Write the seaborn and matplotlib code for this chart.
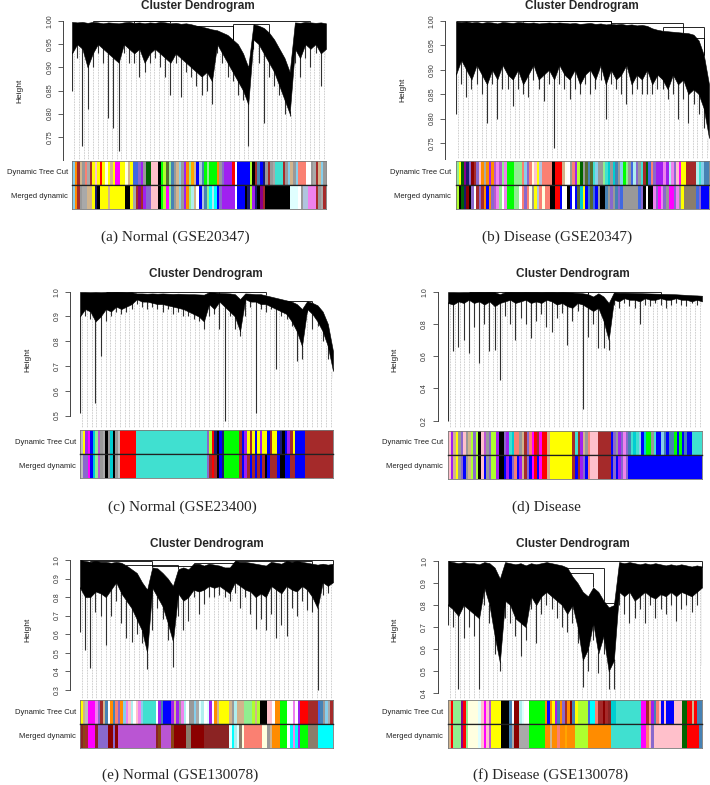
import numpy as np
import matplotlib
matplotlib.use("Agg")
import matplotlib.pyplot as plt
from matplotlib.colors import ListedColormap
import seaborn as sns

sns.set_style("white")
plt.rcParams['font.family'] = ['Liberation Sans', 'DejaVu Sans']

# ---------------- colour codes (WGCNA module colours) ----------------
CODE_COLORS = {
    't': '#40E0D0', 'b': '#0000FF', 'n': '#A52A2A', 'y': '#FFFF00', 'g': '#00FF00',
    'r': '#FF0000', 'k': '#000000', 'p': '#FFC0CB', 'm': '#FF00FF', 'u': '#A020F0',
    'G': '#ADFF2F', 'a': '#D2B48C', 's': '#FA8072', 'c': '#00FFFF', 'M': '#191970',
    'l': '#E0FFFF', 'e': '#999999', 'L': '#90EE90', 'Y': '#FFFFE0', 'R': '#4169E1',
    'd': '#8B0000', 'D': '#006400', 'T': '#00CED1', 'x': '#A9A9A9', 'o': '#FFA500',
    'O': '#FF8C00', 'w': '#FFFFFF', 'S': '#87CEEB', 'A': '#8B4513', 'E': '#4682B4',
    'P': '#AFEEEE', 'V': '#EE82EE', 'B': '#556B2F', 'Q': '#8B008B', 'q': '#BEBEBE',
    'h': '#8968CD', 'i': '#BA55D3', 'f': '#8B2323', 'K': '#8B7D6B', 'z': '#B0C4DE',
    'I': '#FFFFF0',
}

# ---------------- panel (a) Normal GSE20347 ----------------
A_TOP = [0.998, 0.997, 0.998, 0.996, 0.998, 0.997, 0.995, 0.997, 0.996, 0.995,
         0.997, 0.998, 0.996, 0.997, 0.995, 0.997, 0.996, 0.998, 0.997, 0.995,
         0.996, 0.994, 0.995, 0.993, 0.990, 0.988, 0.985, 0.982,
         0.980, 0.975, 0.970, 0.960, 0.950, 0.930, 0.900,
         0.993, 0.990, 0.985, 0.975, 0.960, 0.940, 0.920, 0.890,
         0.997, 0.996, 0.998, 0.997, 0.996, 0.997, 0.995]
A_MASS = [0.93, 0.95, 0.94, 0.90, 0.93, 0.95, 0.94, 0.93, 0.92, 0.91,
          0.95, 0.94, 0.93, 0.94, 0.91, 0.93, 0.94, 0.93, 0.92, 0.91,
          0.93, 0.92, 0.91, 0.90, 0.89, 0.88, 0.89, 0.87,
          0.95, 0.93, 0.91, 0.89, 0.87, 0.85, 0.82,
          0.96, 0.95, 0.93, 0.91, 0.89, 0.86, 0.83, 0.80,
          0.94, 0.92, 0.95, 0.94, 0.95, 0.93, 0.94]
A_LEAF = [0.85, 0.92, 0.73, 0.81, 0.90, 0.93, 0.91, 0.79, 0.77, 0.72,
          0.93, 0.91, 0.91, 0.88, 0.89, 0.91, 0.92, 0.90, 0.88, 0.84,
          0.91, 0.835, 0.89, 0.88, 0.86, 0.84, 0.85, 0.82,
          0.93, 0.91, 0.88, 0.87, 0.84, 0.83, 0.73,
          0.94, 0.91, 0.78, 0.88, 0.86, 0.84, 0.80, 0.795,
          0.91, 0.88, 0.92, 0.90, 0.93, 0.86, 0.92]
A_JOINS = [(4, 19, 0.9995), (12, 46, 0.999), (31, 38, 0.994), (24, 31, 0.99)]
A_DYN = ("SOn" "aesx" "nypyr" "yYyay" "mmyyY" "ayR" "Rhue" "DD" "ppp" "kgGBL"
         "EeaSe" "uOLoa" "bzEgL" "ggg" "Oehu" "uurw" "bbbbb" "Gkn" "EbMe" "nex"
         "ttt" "neSaeS" "sssw" "w" "exnaSe")
A_MRG = ("SOnexxa" "ayMky" "yyayy" "yyyyk" "kyx" "nQnu" "hh" "ppp" "kgGmL" "EeaSe"
         "uOLPa" "wbzEL" "cPc" "bhuu" "uuuw" "bbbkM" "GuM" "kQnk" "kkkkkkkkk" "lll"
         "wez" "zVV" "Vnexn")
A_TICKS = [0.75, 0.80, 0.85, 0.90, 0.95, 1.00]
A_CAPTION = "(a) Normal (GSE20347)"

# ---------------- panel (b) Disease GSE20347 ----------------
B_TOP = [0.999, 0.998, 0.999, 0.997, 0.998, 0.996, 0.998, 0.997, 0.995, 0.998,
         0.997, 0.996, 0.998, 0.997, 0.996, 0.997, 0.995, 0.996, 0.997, 0.996,
         0.997, 0.996, 0.995, 0.996, 0.994, 0.995, 0.996, 0.994, 0.995, 0.993,
         0.994, 0.993, 0.994, 0.992, 0.993, 0.991, 0.992, 0.990, 0.985, 0.982,
         0.980, 0.979, 0.978, 0.977, 0.976, 0.975, 0.972, 0.960, 0.930, 0.870]
B_MASS = [0.89, 0.92, 0.90, 0.88, 0.91, 0.89, 0.87, 0.90, 0.88, 0.91,
          0.89, 0.88, 0.90, 0.87, 0.89, 0.91, 0.88, 0.89, 0.90, 0.88,
          0.91, 0.89, 0.88, 0.90, 0.87, 0.89, 0.90, 0.88, 0.91, 0.87,
          0.90, 0.88, 0.89, 0.91, 0.87, 0.89, 0.88, 0.90, 0.87, 0.89,
          0.88, 0.86, 0.89, 0.87, 0.88, 0.85, 0.86, 0.85, 0.82, 0.76]
B_LEAF = [0.81, 0.87, 0.845, 0.86, 0.87, 0.85, 0.79, 0.87, 0.80, 0.86,
          0.86, 0.825, 0.86, 0.85, 0.845, 0.88, 0.86, 0.835, 0.87, 0.74,
          0.87, 0.86, 0.84, 0.86, 0.85, 0.87, 0.85, 0.86, 0.88, 0.80,
          0.87, 0.86, 0.85, 0.83, 0.85, 0.86, 0.85, 0.85, 0.85, 0.86,
          0.86, 0.84, 0.85, 0.80, 0.84, 0.79, 0.83, 0.81, 0.78, 0.735]
B_JOINS = [(0, 30, 0.9995), (13, 30, 0.999), (30, 44, 0.995), (40, 48, 0.988), (44, 48, 0.965)]
B_DYN = ("LyD" "QMhd" "nhpOx" "OuO" "iViLV" "ggg" "LLL" "sShs" "Ypyzs" "sss"
         "k" "rrr" "a" "Iwes" "uGDeB" "EBtSe" "eLtTe" "TEeSgL" "eRPhe" "tnDRsh"
         "uuuVu" "PVhpm" "yy" "nnnn" "PtSEE")
B_MRG = ("GkD" "Mdkh" "wnhnO" "bOh" "iVLwV" "ggg" "LLw" "shsY" "eyzsY" "ssk"
         "k" "rrb" "w" "Ikbw" "bBTyb" "EBRbe" "kkEeh" "eEhRee" "eeeeR" "hkwkkV"
         "hmVhe" "mmhVe" "yK" "KKKK" "Rhbbb")
B_TICKS = [0.75, 0.80, 0.85, 0.90, 0.95, 1.00]
B_CAPTION = "(b) Disease (GSE20347)"

# ---------------- panel (c) Normal GSE23400 ----------------
C_TOP = [0.999, 0.999, 0.998, 0.999, 0.998, 0.999, 0.998, 0.999, 0.998, 0.997, 0.998,
         0.993, 0.993, 0.992, 0.993, 0.992, 0.993, 0.992, 0.991, 0.992, 0.991, 0.990,
         0.990, 0.989, 0.988,
         0.998, 0.997, 0.995, 0.994, 0.993, 0.990, 0.970,
         0.993, 0.992, 0.990, 0.990, 0.985, 0.980, 0.975, 0.970, 0.965, 0.960, 0.950, 0.930,
         0.962, 0.955, 0.945, 0.920, 0.870, 0.760]
C_MASS = [0.90, 0.93, 0.92, 0.88, 0.90, 0.93, 0.92, 0.94, 0.93, 0.94, 0.95,
          0.97, 0.96, 0.96, 0.955, 0.95, 0.95, 0.945, 0.94, 0.935, 0.93, 0.92,
          0.91, 0.90, 0.88,
          0.95, 0.93, 0.96, 0.94, 0.92, 0.90, 0.84,
          0.97, 0.96, 0.96, 0.95, 0.95, 0.94, 0.93, 0.92, 0.91, 0.88, 0.84, 0.78,
          0.93, 0.91, 0.88, 0.84, 0.78, 0.68]
C_LEAF = [0.51, 0.90, 0.89, 0.55, 0.74, 0.88, 0.90, 0.92, 0.91, 0.92, 0.93,
          0.95, 0.94, 0.93, 0.94, 0.93, 0.92, 0.93, 0.91, 0.92, 0.90, 0.90,
          0.89, 0.88, 0.85,
          0.90, 0.91, 0.85, 0.48, 0.90, 0.85, 0.82,
          0.90, 0.94, 0.51, 0.93, 0.92, 0.93, 0.69, 0.90, 0.89, 0.86, 0.72, 0.73,
          0.92, 0.85, 0.86, 0.80, 0.73, 0.65]
C_JOINS = [(5, 27, 1.0), (27, 36, 0.999), (40, 45, 0.962)]
C_DYN = ("qy" "umbTLi" "exkeTkeq" "rrrrrr" "ttttttt" "ttttttt" "ttttttt" "ttttttt"
         "hGr" "MkbM" "gggggg" "nbuyn" "ybyuyybn" "yy" "bMkbun" "y" "bbbb" "nnnnn" "nnnnnn")
C_MRG = ("qh" "hmbTLi" "exkeTkeq" "rrrrrr" "ttttttt" "ttttttt" "ttttttt" "ttttttt"
         "hnr" "nkbM" "gggggg" "nbunb" "nbnbnkbn" "nn" "bkkbbn" "n" "bbbb" "nnnnn" "nnnnnn")
C_TICKS = [0.5, 0.6, 0.7, 0.8, 0.9, 1.0]
C_CAPTION = "(c) Normal (GSE23400)"

# ---------------- panel (d) Disease GSE23400 ----------------
D_TOP = [0.998, 0.998, 0.997, 0.998, 0.998, 0.997, 0.998, 0.997, 0.998, 0.997,
         0.985, 0.997, 0.998, 0.997, 0.997, 0.998, 0.997, 0.997, 0.996, 0.997,
         0.997, 0.996, 0.997, 0.996, 0.995,
         0.993, 0.990, 0.985, 0.970,
         0.990, 0.970, 0.930,
         0.995, 0.994, 0.994, 0.993, 0.992, 0.991, 0.990, 0.989, 0.988, 0.987,
         0.986, 0.985, 0.984, 0.982, 0.980, 0.978, 0.977, 0.975]
D_MASS = [0.93, 0.92, 0.94, 0.93, 0.95, 0.93, 0.94, 0.92, 0.94, 0.91,
          0.93, 0.94, 0.95, 0.93, 0.94, 0.95, 0.93, 0.94, 0.93, 0.95,
          0.94, 0.92, 0.93, 0.91, 0.90,
          0.93, 0.92, 0.90, 0.88,
          0.90, 0.82, 0.70,
          0.95, 0.94, 0.96, 0.95, 0.95, 0.94, 0.96, 0.95, 0.95, 0.96,
          0.95, 0.95, 0.96, 0.95, 0.95, 0.94, 0.95, 0.94]
D_LEAF = [0.20, 0.63, 0.66, 0.70, 0.62, 0.78, 0.555, 0.80, 0.63, 0.64,
          0.45, 0.85, 0.80, 0.70, 0.84, 0.80, 0.71, 0.82, 0.86, 0.78,
          0.75, 0.84, 0.87, 0.67, 0.82,
          0.88, 0.27, 0.72, 0.80,
          0.65, 0.65, 0.64,
          0.92, 0.90, 0.93, 0.91, 0.90, 0.80, 0.92, 0.91, 0.93, 0.92,
          0.90, 0.92, 0.93, 0.92, 0.91, 0.93, 0.92, 0.92]
D_JOINS = [(4, 27, 1.0), (27, 41, 0.999)]
D_DYN = ("puayehpea" "GhGk" "piehGG" "ukkh" "utTs" "seanhs" "mrnmr" "ray" "yyyyyyyy"
         "ntnuaesp" "pp" "nnnnn" "bheuhVhEt" "TtSbTgget" "bbSEbEEgb" "gbEbb" "tttt")
D_MRG = ("puayehbea" "GhGk" "pbehGG" "ukkb" "ubhs" "buanhb" "mrbmr" "ray" "yyyyyyyy"
         "nbnuhbsp" "pp" "nnnnn" "bhbuhVhbb" "bbbbbbbbb" "bbbbbbbbb" "bbbbb" "bbbb")
D_TICKS = [0.2, 0.4, 0.6, 0.8, 1.0]
D_CAPTION = "(d) Disease"

# ---------------- panel (e) Normal GSE130078 ----------------
E_TOP = [1.0, 0.995, 0.99, 0.995, 0.99, 0.99, 0.985, 0.99, 0.985, 0.97,
         0.95, 0.93, 0.88, 0.84, 0.96, 0.955, 0.93, 0.90, 0.86, 0.95,
         0.96, 0.95, 0.98, 0.98, 0.97, 0.98, 0.975, 0.97, 0.96, 0.96,
         0.995, 0.99, 0.99, 0.985, 0.98, 0.975, 0.97, 0.99, 0.985, 0.98,
         0.995, 0.99, 0.995, 0.99, 0.985, 0.98, 0.975, 0.98, 0.975, 0.98]
E_MASS = [0.85, 0.80, 0.80, 0.83, 0.82, 0.80, 0.84, 0.88, 0.82, 0.78,
          0.74, 0.68, 0.62, 0.50, 0.85, 0.80, 0.75, 0.66, 0.56, 0.82,
          0.78, 0.80, 0.84, 0.83, 0.84, 0.86, 0.85, 0.86, 0.84, 0.82,
          0.88, 0.86, 0.84, 0.83, 0.80, 0.82, 0.80, 0.86, 0.84, 0.82,
          0.86, 0.84, 0.83, 0.86, 0.84, 0.80, 0.74, 0.88, 0.86, 0.88]
E_LEAF = [0.61, 0.515, 0.415, 0.72, 0.70, 0.54, 0.70, 0.78, 0.66, 0.58,
          0.56, 0.60, 0.55, 0.41, 0.62, 0.74, 0.68, 0.57, 0.42, 0.70,
          0.62, 0.67, 0.80, 0.71, 0.76, 0.80, 0.80, 0.81, 0.80, 0.78,
          0.82, 0.74, 0.80, 0.71, 0.63, 0.68, 0.62, 0.71, 0.58, 0.65,
          0.59, 0.74, 0.70, 0.78, 0.73, 0.72, 0.30, 0.81, 0.82, 0.86]
E_JOINS = [(0, 49, 0.998), (2, 14, 0.992), (9, 19, 0.975), (14, 22, 0.968),
           (22, 30, 0.985), (30, 45, 0.995)]
E_DYN = ("yaq" "mmm" "VhnaEw" "OEshO" "SVpPwpVS" "ttttt" "wuE" "bbb" "uaueV" "Pwe"
         "eS" "xlPwl" "uwOa" "yyyy" "aePa" "aaLL" "LGaGk" "kkp" "pwO" "Og"
         "ggw" "wVwu" "rrr" "nnnn" "REeSxn")
E_MRG = ("fAn" "mmm" "fhhhhd" "dhdii" "iiiiiiii" "iiiii" "fAi" "iii" "Adddd" "dKK"
         "dd" "dddff" "ffff" "ffff" "lcPl" "KYss" "sssss" "YYe" "aOO" "Og"
         "ggw" "cVcu" "ggg" "KKKK" "cccccc")
E_TICKS = [0.3, 0.4, 0.5, 0.6, 0.7, 0.8, 0.9, 1.0]
E_CAPTION = "(e) Normal (GSE130078)"

# ---------------- panel (f) Disease GSE130078 ----------------
F_TOP = [1.0, 0.995, 0.99, 0.995, 0.99, 0.99, 0.985, 0.995, 0.99, 0.97,
         0.92, 0.995, 0.99, 0.985, 0.99, 0.98, 0.99, 0.985, 0.99, 0.995,
         0.99, 0.985, 0.98, 0.97, 0.93, 0.90, 0.86, 0.84, 0.88, 0.86,
         0.82, 0.79, 0.80, 0.995, 0.99, 0.995, 0.99, 0.985, 0.99, 0.985,
         0.99, 0.985, 0.98, 0.985, 0.98, 0.985, 0.98, 0.975, 0.98, 0.975]
F_MASS = [0.80, 0.78, 0.75, 0.80, 0.78, 0.76, 0.74, 0.88, 0.80, 0.66,
          0.54, 0.82, 0.80, 0.74, 0.72, 0.70, 0.84, 0.80, 0.84, 0.86,
          0.84, 0.82, 0.80, 0.76, 0.80, 0.70, 0.55, 0.60, 0.72, 0.58,
          0.66, 0.50, 0.55, 0.86, 0.84, 0.86, 0.82, 0.84, 0.86, 0.84,
          0.83, 0.85, 0.84, 0.86, 0.84, 0.86, 0.85, 0.84, 0.86, 0.88]
F_LEAF = [0.71, 0.70, 0.42, 0.65, 0.70, 0.66, 0.42, 0.80, 0.72, 0.58,
          0.50, 0.74, 0.72, 0.66, 0.57, 0.64, 0.78, 0.63, 0.76, 0.80,
          0.78, 0.74, 0.70, 0.68, 0.72, 0.63, 0.43, 0.50, 0.64, 0.49,
          0.58, 0.42, 0.42, 0.80, 0.76, 0.72, 0.74, 0.78, 0.72, 0.80,
          0.74, 0.78, 0.76, 0.80, 0.73, 0.78, 0.80, 0.77, 0.80, 0.53]
F_JOINS = [(0, 49, 0.999), (16, 30, 0.968), (22, 28, 0.945), (27, 32, 0.81)]
F_DYN = ("ar" "LLL" "Q" "rL" "YYYY" "lp" "mpi" "yyyy" "kkk" "Ewd" "dPlwwg" "ggggg"
         "ObOyuEOhnOdEy" "GGGG" "Rc" "csn" "ndnfT" "Ttt" "tttttttt" "mm" "nsuEsp"
         "bp" "bbbp" "ppD" "Dr" "rarEE")
F_MRG = ("ar" "LLL" "Q" "rL" "YYYY" "lp" "mpi" "yyyy" "kkk" "Exd" "dxxxxg" "ggggg"
         "OOaOOsOOoOOOG" "GGGG" "OO" "OOO" "OOOOt" "ttt" "tttttttt" "mm" "sphppp"
         "pp" "pppp" "ppD" "Dr" "rrrrE")
F_TICKS = [0.4, 0.5, 0.6, 0.7, 0.8, 0.9, 1.0]
F_CAPTION = "(f) Disease (GSE130078)"

# ---------------- layout (pixels, origin top-left) ----------------
W, H = 710, 785
LAYOUT = [
    dict(box=(72, 21, 326, 160), spine=63, ymin=0.70, bars=(161, 184.7, 208.7), title=(198, 6),
         ylab=20, lab=68, cap=(175, 237), full=True),
    dict(box=(456, 21, 709, 159), spine=445, ymin=0.717, bars=(161, 184.7, 208.7), title=(582, 6),
         ylab=403, lab=451, cap=(557, 237), full=True),
    dict(box=(80, 291.7, 333, 428), spine=70, ymin=0.45, bars=(430.3, 454.3, 477.7), title=(206, 274),
         ylab=28, lab=76, cap=(182, 507), full=False),
    dict(box=(448, 291.7, 702, 428.3), spine=437.7, ymin=0.153, bars=(431.3, 454.7, 478.7), title=(573, 274),
         ylab=395, lab=443, cap=(546, 507), full=False),
    dict(box=(80, 560, 333, 699), spine=70, ymin=0.25, bars=(700.3, 724.3, 748), title=(207, 544),
         ylab=28, lab=76, cap=(180, 775), full=False),
    dict(box=(448, 561, 702, 699), spine=437.7, ymin=0.374, bars=(700.3, 724.3, 748), title=(573, 544),
         ylab=395, lab=443, cap=(551, 775), full=False),
]
PANELS = [
    (A_TOP, A_MASS, A_LEAF, A_JOINS, A_DYN, A_MRG, A_TICKS, "%.2f", A_CAPTION),
    (B_TOP, B_MASS, B_LEAF, B_JOINS, B_DYN, B_MRG, B_TICKS, "%.2f", B_CAPTION),
    (C_TOP, C_MASS, C_LEAF, C_JOINS, C_DYN, C_MRG, C_TICKS, "%.1f", C_CAPTION),
    (D_TOP, D_MASS, D_LEAF, D_JOINS, D_DYN, D_MRG, D_TICKS, "%.1f", D_CAPTION),
    (E_TOP, E_MASS, E_LEAF, E_JOINS, E_DYN, E_MRG, E_TICKS, "%.1f", E_CAPTION),
    (F_TOP, F_MASS, F_LEAF, F_JOINS, F_DYN, F_MRG, F_TICKS, "%.1f", F_CAPTION),
]

codes = sorted(CODE_COLORS)
code_index = {c: i for i, c in enumerate(codes)}
cmap = ListedColormap([CODE_COLORS[c] for c in codes])

fig = plt.figure(figsize=(W / 100, H / 100), dpi=100)


def rect(x0, y0, x1, y1):
    return [x0 / W, 1 - y1 / H, (x1 - x0) / W, (y1 - y0) / H]


def draw_dendro(ax, top, mass, leaf, joins, ymin, ticks, fmt, spine_off_px, full):
    top = np.asarray(top, float)
    mass = np.asarray(mass, float)
    leaf = np.asarray(leaf, float)
    n = len(top)
    x = np.arange(n)
    # dotted guide lines
    n_guides = 54
    gx = (np.arange(n_guides) + 0.5) * (n - 1) / n_guides
    gi = np.clip(np.round(gx).astype(int), 0, n - 1)
    ax.vlines(gx, ymin, mass[gi], colors='#a0a0a0', linestyles=(0, (1.0, 1.3)), lw=0.5, zorder=1)
    # leaf drops
    ax.vlines(x, leaf, mass + 0.005, colors='#303030', lw=0.8, zorder=2)
    # dense branch mass (polygon through the per-position heights)
    ax.fill_between(x, mass, top, color='black', lw=0.4, edgecolor='black', zorder=3)
    for l, r, h in joins:
        ax.hlines(h, l, r, colors='black', lw=0.6, zorder=4, clip_on=False)
        ax.vlines([l, r], [min(top[l], h), min(top[r], h)], h, colors='black', lw=0.6, zorder=4,
                  clip_on=False)
    ax.set_xlim(0, n - 1)
    ax.set_ylim(ymin, 1.0)
    for s in ('top', 'right', 'bottom'):
        ax.spines[s].set_visible(False)
    ax.spines['left'].set_position(('outward', spine_off_px * 72 / 100))
    ax.spines['left'].set_color('#444444')
    ax.spines['left'].set_linewidth(0.7)
    ax.spines['left'].set_bounds(ymin if full else ticks[0], 1.0)
    ax.set_xticks([])
    ax.set_yticks(ticks)
    ax.set_yticklabels([fmt % t for t in ticks], rotation=90, va='center', fontsize=5,
                       color='#333333')
    ax.tick_params(axis='y', length=3.5, width=0.6, pad=3.5, color='#444444', left=True)
    ax.patch.set_alpha(0)


def draw_bar(ax, code_string):
    vals = np.array([[code_index[c] for c in code_string]])
    sns.heatmap(vals, cmap=cmap, vmin=-0.5, vmax=len(codes) - 0.5, cbar=False,
                xticklabels=False, yticklabels=False, ax=ax, linewidths=0)
    for s in ax.spines.values():
        s.set_visible(True)
        s.set_color('#777777')
        s.set_linewidth(0.6)


for lay, (top, mass, leaf, joins, dyn, mrg, ticks, fmt, cap) in zip(LAYOUT, PANELS):
    x0, y0, x1, y1 = lay['box']
    ax = fig.add_axes(rect(x0, y0, x1, y1))
    draw_dendro(ax, top, mass, leaf, joins, lay['ymin'], ticks, fmt, x0 - lay['spine'], lay['full'])

    bt, bs, bb = lay['bars']
    ax1 = fig.add_axes(rect(x0, bt, x1, bs))
    draw_bar(ax1, dyn)
    ax2 = fig.add_axes(rect(x0, bs, x1, bb))
    draw_bar(ax2, mrg)
    ax1.spines['bottom'].set_color('#222222')
    ax1.spines['bottom'].set_linewidth(0.9)
    ax2.spines['top'].set_color('#222222')
    ax2.spines['top'].set_linewidth(0.9)

    fig.text(lay['lab'] / W, 1 - (bt + bs) / 2 / H, "Dynamic Tree Cut", ha='right', va='center',
             fontsize=5.5, color='#222222')
    fig.text(lay['lab'] / W, 1 - (bs + bb) / 2 / H, "Merged dynamic", ha='right', va='center',
             fontsize=5.5, color='#222222')

    tx, ty = lay['title']
    fig.text(tx / W, 1 - ty / H, "Cluster Dendrogram", ha='center', va='center',
             fontsize=8.5, fontweight='bold')
    fig.text(lay['ylab'] / W, 1 - (y0 + y1) / 2 / H, "Height", rotation=90, ha='center',
             va='center', fontsize=6, color='#222222')
    cx, cy = lay['cap']
    fig.text(cx / W, 1 - cy / H, cap, ha='center', va='center', fontsize=11,
             family=['Liberation Serif', 'DejaVu Serif'])

fig.savefig("out.png", dpi=100, facecolor='white')
